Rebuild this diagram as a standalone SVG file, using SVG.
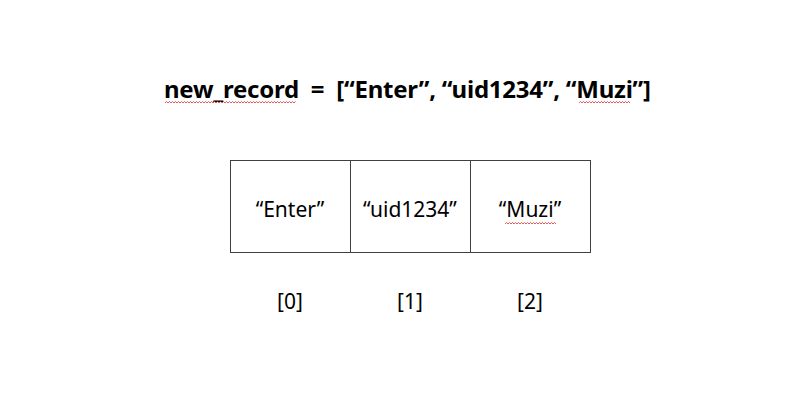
<svg xmlns="http://www.w3.org/2000/svg" width="808" height="415" viewBox="0 0 808 415">
<style>
.t{font-family:"Noto Sans","Noto Sans CJK KR",sans-serif;fill:#000;text-anchor:middle;white-space:pre}
.title{font-size:24px;font-weight:bold;text-anchor:start}
.cell{font-size:21px}
.box{fill:#fff;stroke:#404040;stroke-width:1}
.sq{fill:none;stroke:#e03030;stroke-width:0.8}
</style>
<rect width="808" height="415" fill="#fff"/>
<g id="title">
<text class="t title" x="164" y="98" xml:space="preserve" textLength="487" lengthAdjust="spacing">new_record  =  [“Enter”, “uid1234”, “Muzi”]</text>
<path class="sq" d="M165,103 l1.5,-1.5 l1.5,1.5 l1.5,-1.5 l1.5,1.5 l1.5,-1.5 l1.5,1.5 l1.5,-1.5 l1.5,1.5 l1.5,-1.5 l1.5,1.5 l1.5,-1.5 l1.5,1.5 l1.5,-1.5 l1.5,1.5 l1.5,-1.5 l1.5,1.5 l1.5,-1.5 l1.5,1.5 l1.5,-1.5 l1.5,1.5 l1.5,-1.5 l1.5,1.5 l1.5,-1.5 l1.5,1.5 l1.5,-1.5 l1.5,1.5 l1.5,-1.5 l1.5,1.5 l1.5,-1.5 l1.5,1.5 l1.5,-1.5 l1.5,1.5 l1.5,-1.5 l1.5,1.5 l1.5,-1.5 l1.5,1.5 l1.5,-1.5 l1.5,1.5 l1.5,-1.5 l1.5,1.5 l1.5,-1.5 l1.5,1.5 l1.5,-1.5 l1.5,1.5 l1.5,-1.5 l1.5,1.5 l1.5,-1.5 l1.5,1.5 l1.5,-1.5 l1.5,1.5 l1.5,-1.5 l1.5,1.5 l1.5,-1.5 l1.5,1.5 l1.5,-1.5 l1.5,1.5 l1.5,-1.5 l1.5,1.5 l1.5,-1.5 l1.5,1.5 l1.5,-1.5 l1.5,1.5 l1.5,-1.5 l1.5,1.5 l1.5,-1.5 l1.5,1.5 l1.5,-1.5 l1.5,1.5 l1.5,-1.5 l1.5,1.5 l1.5,-1.5 l1.5,1.5 l1.5,-1.5 l1.5,1.5 l1.5,-1.5 l1.5,1.5 l1.5,-1.5 l1.5,1.5 l1.5,-1.5 l1.5,1.5 l1.5,-1.5 l1.5,1.5 l1.5,-1.5 l1.5,1.5 l1.5,-1.5 l1.5,1.5 l1.5,-1.5"/>
<path class="sq" d="M579,103 l1.5,-1.5 l1.5,1.5 l1.5,-1.5 l1.5,1.5 l1.5,-1.5 l1.5,1.5 l1.5,-1.5 l1.5,1.5 l1.5,-1.5 l1.5,1.5 l1.5,-1.5 l1.5,1.5 l1.5,-1.5 l1.5,1.5 l1.5,-1.5 l1.5,1.5 l1.5,-1.5 l1.5,1.5 l1.5,-1.5 l1.5,1.5 l1.5,-1.5 l1.5,1.5 l1.5,-1.5 l1.5,1.5 l1.5,-1.5 l1.5,1.5 l1.5,-1.5 l1.5,1.5 l1.5,-1.5 l1.5,1.5 l1.5,-1.5 l1.5,1.5 l1.5,-1.5 l1.5,1.5"/>
</g>
<g id="cell0">
<rect class="box" x="230.5" y="160.5" width="120" height="92"/>
<text class="t cell" x="290" y="217">“Enter”</text>
</g>
<g id="cell1">
<rect class="box" x="350.5" y="160.5" width="120" height="92"/>
<text class="t cell" x="410" y="217">“uid1234”</text>
</g>
<g id="cell2">
<rect class="box" x="470.5" y="160.5" width="120" height="92"/>
<text class="t cell" x="530" y="217">“Muzi”</text>
<path class="sq" d="M505,224 l1.5,-1.5 l1.5,1.5 l1.5,-1.5 l1.5,1.5 l1.5,-1.5 l1.5,1.5 l1.5,-1.5 l1.5,1.5 l1.5,-1.5 l1.5,1.5 l1.5,-1.5 l1.5,1.5 l1.5,-1.5 l1.5,1.5 l1.5,-1.5 l1.5,1.5 l1.5,-1.5 l1.5,1.5 l1.5,-1.5 l1.5,1.5 l1.5,-1.5 l1.5,1.5 l1.5,-1.5 l1.5,1.5 l1.5,-1.5 l1.5,1.5 l1.5,-1.5 l1.5,1.5 l1.5,-1.5 l1.5,1.5 l1.5,-1.5 l1.5,1.5 l1.5,-1.5 l1.5,1.5"/>
</g>
<g id="labels">
<text class="t cell" x="290" y="309">[0]</text>
<text class="t cell" x="410" y="309">[1]</text>
<text class="t cell" x="530" y="309">[2]</text>
</g>
<g id="connectors"/>
</svg>
